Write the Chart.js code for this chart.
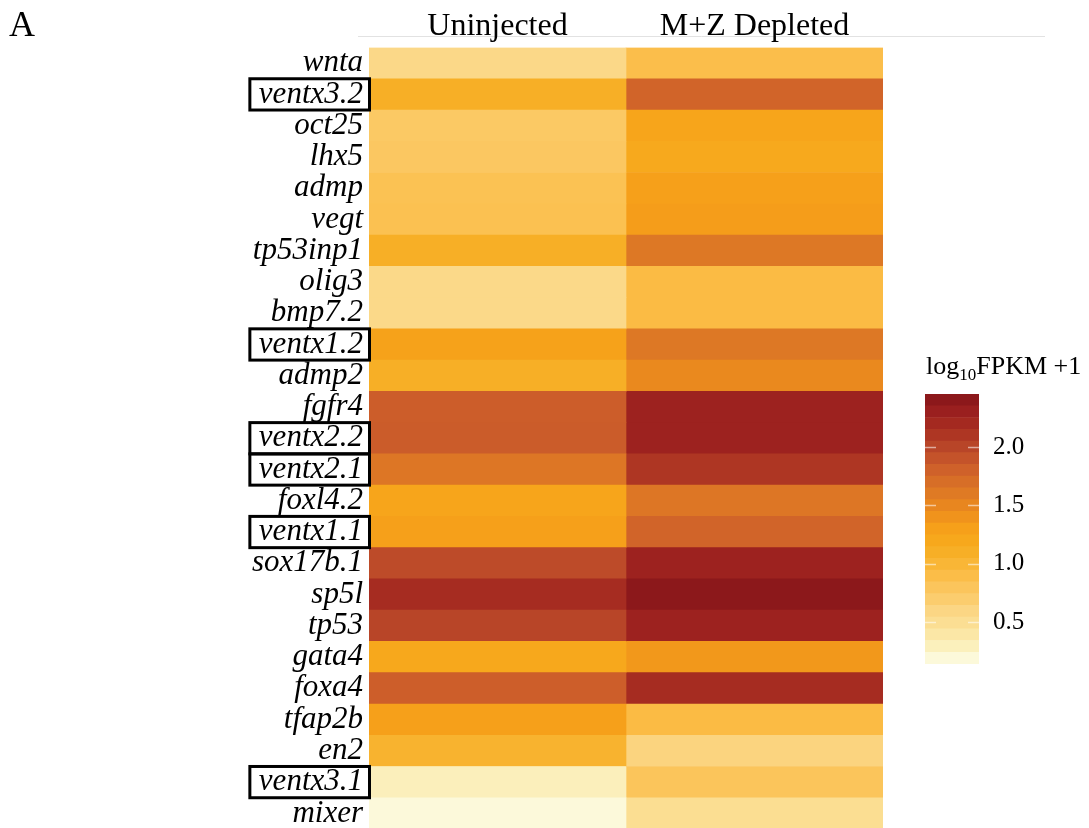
<!DOCTYPE html>
<html>
<head>
<meta charset="utf-8">
<script src="https://cdn.jsdelivr.net/npm/chart.js@4.4.1/dist/chart.umd.min.js"></script>
<style>
  html, body { margin: 0; padding: 0; background: #fff; }
  #wrap { position: relative; width: 1089px; height: 828px; overflow: hidden; }
  #heat { position: absolute; left: 0; top: 0; }
  #scalebar { position: absolute; left: 900px; top: 340px; }
</style>
</head>
<body>
<div id="wrap">
  <canvas id="heat" width="1089" height="829"></canvas>
  <canvas id="scalebar" width="189" height="340"></canvas>
</div>
<script>
// Genes (rows, top to bottom)
const genes = ['wnta', 'ventx3.2', 'oct25', 'lhx5', 'admp', 'vegt', 'tp53inp1', 'olig3',
  'bmp7.2', 'ventx1.2', 'admp2', 'fgfr4', 'ventx2.2', 'ventx2.1', 'foxl4.2', 'ventx1.1',
  'sox17b.1', 'sp5l', 'tp53', 'gata4', 'foxa4', 'tfap2b', 'en2', 'ventx3.1', 'mixer'];

// Conditions (columns)
const conditions = ['Uninjected', 'M+Z Depleted'];

// log10(FPKM + 1) per gene
const uninjected = [0.57, 1.10, 0.75, 0.77, 0.84, 0.85, 1.10, 0.56,
  0.56, 1.28, 1.10, 1.83, 1.84, 1.63, 1.24, 1.30,
  1.96, 2.18, 2.00, 1.20, 1.82, 1.30, 1.04, 0.30, 0.19];
const depleted = [0.88, 1.78, 1.24, 1.19, 1.30, 1.32, 1.62, 0.92,
  0.92, 1.62, 1.48, 2.27, 2.27, 2.10, 1.63, 1.78,
  2.27, 2.42, 2.27, 1.36, 2.18, 0.92, 0.62, 0.80, 0.50];

// Ventx family members highlighted with a frame
const boxedGenes = ['ventx3.2', 'ventx1.2', 'ventx2.2', 'ventx2.1', 'ventx1.1', 'ventx3.1'];

// Colour key
const colorTicks = [0.5, 1.0, 1.5, 2.0];
const colorMin = 0.143;
const colorMax = 2.454;
const colorBands = 23;

// Colour ramp: light yellow -> orange -> dark red
const rampValues = [0.193, 0.294, 0.394, 0.495, 0.595, 0.696, 0.796, 0.897, 0.997, 1.098,
  1.198, 1.299, 1.399, 1.500, 1.600, 1.701, 1.801, 1.902, 2.002, 2.103, 2.203, 2.304, 2.404];
const rampColors = ['#fcf9da', '#fbf0bc', '#fbe7a6', '#fbde93', '#fbd684', '#fbcd6e', '#fbc55c',
  '#fbbd48', '#f9b636', '#f7af26', '#f7a81c', '#f6a01a', '#f0931c', '#e8861f', '#df7a24',
  '#d76e27', '#cf612a', '#c4532a', '#b84528', '#ae3623', '#a42920', '#9a1f1f', '#8c181b'];

function hexToRgb(h) {
  return [parseInt(h.slice(1, 3), 16), parseInt(h.slice(3, 5), 16), parseInt(h.slice(5, 7), 16)];
}
function colorFor(v) {
  if (v <= rampValues[0]) return rampColors[0];
  const n = rampValues.length;
  if (v >= rampValues[n - 1]) return rampColors[n - 1];
  let i = 0;
  while (v > rampValues[i + 1]) i++;
  const t = (v - rampValues[i]) / (rampValues[i + 1] - rampValues[i]);
  const a = hexToRgb(rampColors[i]), b = hexToRgb(rampColors[i + 1]);
  const c = a.map((x, k) => Math.round(x + (b[k] - x) * t));
  return `rgb(${c[0]},${c[1]},${c[2]})`;
}

const SERIF = "'Liberation Serif', 'DejaVu Serif', serif";
const LABEL_SIZE = 31;
const LABEL_PAD = 6;

// Titles, header rule, panel letter and frames around ventx labels
const heatDecor = {
  id: 'heatDecor',
  afterDraw(chart) {
    const { ctx, scales: { x, y } } = chart;
    ctx.save();
    ctx.strokeStyle = '#e2e2e2';
    ctx.lineWidth = 1;
    ctx.beginPath();
    ctx.moveTo(358, 36.5);
    ctx.lineTo(1045, 36.5);
    ctx.stroke();

    ctx.fillStyle = '#000';
    ctx.textBaseline = 'alphabetic';
    ctx.textAlign = 'center';
    ctx.font = `32px ${SERIF}`;
    conditions.forEach((c, i) => ctx.fillText(c, x.getPixelForValue(i + 0.5), 35));

    ctx.textAlign = 'left';
    ctx.font = `36px ${SERIF}`;
    ctx.fillText('A', 9, 36);

    ctx.font = `italic ${LABEL_SIZE}px ${SERIF}`;
    const maxW = Math.max(...boxedGenes.map(g => ctx.measureText(g).width));
    const textRight = y.right - LABEL_PAD;
    const left = textRight - maxW - 9;
    const right = x.left + 0.5;
    const rowH = y.getPixelForValue(1) - y.getPixelForValue(0);
    ctx.strokeStyle = '#000';
    ctx.lineWidth = 3;
    boxedGenes.forEach(g => {
      const idx = genes.indexOf(g);
      const cy = y.getPixelForValue(idx);
      ctx.strokeRect(left, cy - rowH / 2, right - left, rowH);
    });
    ctx.restore();
  }
};

new Chart(document.getElementById('heat'), {
  type: 'bar',
  data: {
    labels: genes,
    datasets: conditions.map((c, ci) => ({
      label: c,
      data: genes.map(() => [ci, ci + 1]),
      backgroundColor: (ci === 0 ? uninjected : depleted).map(colorFor),
      borderWidth: 0,
      barPercentage: 1,
      categoryPercentage: 1,
      grouped: false
    }))
  },
  options: {
    indexAxis: 'y',
    responsive: false,
    animation: false,
    events: [],
    plugins: { legend: { display: false }, tooltip: { enabled: false } },
    layout: { padding: { left: 0, top: 47.5, right: 206, bottom: 0 } },
    scales: {
      x: { type: 'linear', min: 0, max: 2, display: false },
      y: {
        type: 'category',
        grid: { display: false, drawTicks: false },
        border: { display: false },
        ticks: {
          autoSkip: false,
          padding: LABEL_PAD,
          color: '#000',
          font: { family: SERIF, style: 'italic', size: LABEL_SIZE }
        },
        afterFit(s) { s.width = 369; s.paddingTop = 0; s.paddingBottom = 0; }
      }
    }
  },
  plugins: [heatDecor]
});

// Colour key bands
const bandEdges = Array.from({ length: colorBands + 1 }, (_, i) => colorMin + (colorMax - colorMin) * i / colorBands);

const keyDecor = {
  id: 'keyDecor',
  afterDatasetsDraw(chart) {
    const { ctx, chartArea: a, scales: { y } } = chart;
    ctx.save();
    ctx.strokeStyle = 'rgba(255,255,255,0.55)';
    ctx.lineWidth = 1.5;
    colorTicks.forEach(v => {
      const py = Math.round(y.getPixelForValue(v)) + 0.5;
      ctx.beginPath();
      ctx.moveTo(a.left, py); ctx.lineTo(a.left + 11, py);
      ctx.moveTo(a.right - 11, py); ctx.lineTo(a.right, py);
      ctx.stroke();
    });
    ctx.restore();
  },
  afterDraw(chart) {
    const { ctx } = chart;
    ctx.save();
    ctx.fillStyle = '#000';
    ctx.textAlign = 'left';
    ctx.textBaseline = 'alphabetic';
    let px = 26;
    const base = 34;
    ctx.font = `26px ${SERIF}`;
    ctx.fillText('log', px, base);
    px += ctx.measureText('log').width;
    ctx.font = `17px ${SERIF}`;
    ctx.fillText('10', px, base + 6);
    px += ctx.measureText('10').width;
    ctx.font = `26px ${SERIF}`;
    ctx.fillText('FPKM +1', px, base);
    ctx.restore();
  }
};

new Chart(document.getElementById('scalebar'), {
  type: 'bar',
  data: {
    labels: [''],
    datasets: bandEdges.slice(0, -1).map((lo, i) => ({
      data: [[lo, bandEdges[i + 1]]],
      backgroundColor: colorFor((lo + bandEdges[i + 1]) / 2),
      borderWidth: 0,
      barPercentage: 1,
      categoryPercentage: 1,
      grouped: false
    }))
  },
  options: {
    responsive: false,
    animation: false,
    events: [],
    plugins: { legend: { display: false }, tooltip: { enabled: false } },
    layout: { padding: { left: 25, top: 54, right: 0, bottom: 16 } },
    scales: {
      x: { display: false },
      y: {
        type: 'linear',
        position: 'right',
        min: colorMin,
        max: colorMax,
        grid: { display: false, drawTicks: false },
        border: { display: false },
        afterBuildTicks(s) { s.ticks = colorTicks.map(v => ({ value: v })); },
        afterFit(s) { s.width = 110; s.paddingTop = 0; s.paddingBottom = 0; },
        ticks: {
          padding: 14,
          color: '#000',
          font: { family: SERIF, size: 25 },
          callback: v => Number(v).toFixed(1)
        }
      }
    }
  },
  plugins: [keyDecor]
});
</script>
</body>
</html>
